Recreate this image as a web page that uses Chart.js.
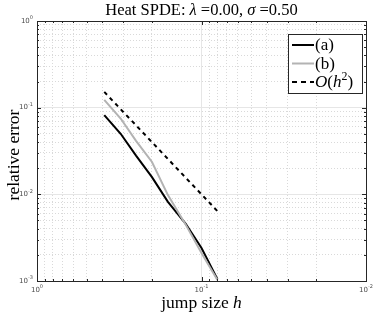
<!DOCTYPE html>
<html>
<head>
<meta charset="utf-8">
<script src="https://cdn.jsdelivr.net/npm/chart.js@4/dist/chart.umd.min.js"></script>
<style>
  html, body { margin: 0; padding: 0; background: #fff; }
  #wrap { width: 374px; height: 315px; }
</style>
</head>
<body>
<div id="wrap"><canvas id="errChart" width="374" height="315"></canvas></div>
<script>
// jump sizes h and relative errors
const hValues = [0.39, 0.31, 0.25, 0.2, 0.16, 0.125, 0.1, 0.08];
const errA = [0.082, 0.050, 0.028, 0.0158, 0.0082, 0.0046, 0.0024, 0.00105];
const errB = [0.123, 0.075, 0.0414, 0.0236, 0.0098, 0.0045, 0.0021, 0.00103];
const errRef = [0.152, 0.096, 0.0625, 0.04, 0.0256, 0.0156, 0.01, 0.0064];
const seriesLabels = ['(a)', '(b)', 'O(h^2)'];
const xDecades = [0, -1, -2];
const yDecades = [0, -1, -2, -3];

const SERIF = '"Liberation Serif", "DejaVu Serif", serif';

function logTicks(lo, hi) {
  const out = [];
  for (let e = lo; e < hi; e++) {
    for (let m = 1; m < 10; m++) out.push(+(m * Math.pow(10, e)).toPrecision(6));
  }
  out.push(Math.pow(10, hi));
  return out;
}
function isMajor(v) {
  const l = Math.log10(v);
  return Math.abs(l - Math.round(l)) < 1e-6;
}
const toPts = ys => hValues.map((h, i) => ({x: h, y: ys[i]}));

// draw "10^e" tick label
function drawPow(ctx, e, x, y, align) {
  ctx.save();
  ctx.fillStyle = '#4d4d4d';
  ctx.textBaseline = 'middle';
  ctx.textAlign = 'left';
  ctx.font = '7px "DejaVu Sans", sans-serif';
  const bw = ctx.measureText('10').width;
  ctx.font = '5px "DejaVu Sans", sans-serif';
  const ew = ctx.measureText(String(e)).width;
  const x0 = align === 'right' ? x - bw - ew : x - (bw + ew) / 2;
  ctx.font = '7px "DejaVu Sans", sans-serif';
  ctx.fillText('10', x0, y);
  ctx.font = '5px "DejaVu Sans", sans-serif';
  ctx.fillText(String(e), x0 + bw, y - 3);
  ctx.restore();
}

// draw runs of text with mixed italic
function drawRuns(ctx, runs, x, y, size, align) {
  ctx.save();
  ctx.textBaseline = 'alphabetic';
  ctx.textAlign = 'left';
  let w = 0;
  runs.forEach(r => {
    ctx.font = (r.it ? 'italic ' : '') + (r.sup ? size * 0.7 : size) + 'px ' + SERIF;
    r.w = ctx.measureText(r.t).width;
    w += r.w;
  });
  let cx = align === 'center' ? x - w / 2 : x;
  runs.forEach(r => {
    ctx.font = (r.it ? 'italic ' : '') + (r.sup ? size * 0.7 : size) + 'px ' + SERIF;
    ctx.fillText(r.t, cx, r.sup ? y - size * 0.4 : y);
    cx += r.w;
  });
  ctx.restore();
}

const decor = {
  id: 'decor',
  afterDraw(chart) {
    const ctx = chart.ctx, ca = chart.chartArea;
    const xs = chart.scales.x, ys = chart.scales.y;
    ctx.save();
    ctx.strokeStyle = '#262626';
    ctx.lineWidth = 1;
    // tick marks inside the box
    ctx.beginPath();
    xs.ticks.forEach(t => {
      const px = Math.round(xs.getPixelForValue(t.value)) + 0.5;
      const len = isMajor(t.value) ? 4 : 2;
      ctx.moveTo(px, ca.bottom); ctx.lineTo(px, ca.bottom - len);
      ctx.moveTo(px, ca.top); ctx.lineTo(px, ca.top + len);
    });
    ys.ticks.forEach(t => {
      const py = Math.round(ys.getPixelForValue(t.value)) + 0.5;
      const len = isMajor(t.value) ? 4 : 2;
      ctx.moveTo(ca.left, py); ctx.lineTo(ca.left + len, py);
      ctx.moveTo(ca.right, py); ctx.lineTo(ca.right - len, py);
    });
    ctx.stroke();
    ctx.strokeRect(Math.round(ca.left) + 0.5, Math.round(ca.top) + 0.5,
      Math.round(ca.right - ca.left), Math.round(ca.bottom - ca.top));
    ctx.restore();

    xDecades.forEach(e => drawPow(ctx, e, xs.getPixelForValue(Math.pow(10, e)), ca.bottom + 9, 'center'));
    yDecades.forEach(e => drawPow(ctx, e, ca.left - 4, ys.getPixelForValue(Math.pow(10, e)), 'right'));

    // title and axis titles
    ctx.fillStyle = '#000';
    const cx = (ca.left + ca.right) / 2;
    drawRuns(ctx, [{t: 'Heat SPDE: '}, {t: 'λ', it: true}, {t: ' =0.00, '}, {t: 'σ', it: true}, {t: ' =0.50'}], cx, 15, 16.5, 'center');
    drawRuns(ctx, [{t: 'jump size '}, {t: 'h', it: true}], cx, 308, 17.5, 'center');
    ctx.save();
    ctx.translate(19, (ca.top + ca.bottom) / 2 + 4);
    ctx.rotate(-Math.PI / 2);
    drawRuns(ctx, [{t: 'relative error'}], 0, 0, 17.5, 'center');
    ctx.restore();

    // legend box
    const lx = 288, ly = 34, lw = 74, lh = 59;
    ctx.save();
    ctx.fillStyle = '#fff';
    ctx.fillRect(lx, ly, lw, lh);
    ctx.strokeStyle = '#262626';
    ctx.lineWidth = 1;
    ctx.strokeRect(lx + 0.5, ly + 0.5, lw, lh);
    chart.data.datasets.forEach((ds, i) => {
      const ry = ly + 11 + i * 18.5;
      ctx.save();
      ctx.strokeStyle = ds.borderColor;
      ctx.lineWidth = ds.borderWidth;
      ctx.setLineDash(ds.borderDash ? [5, 4] : []);
      ctx.beginPath();
      ctx.moveTo(lx + 4, ry); ctx.lineTo(lx + 26, ry);
      ctx.stroke();
      ctx.restore();
      ctx.fillStyle = '#000';
      if (ds.label === 'O(h^2)') {
        drawRuns(ctx, [{t: 'O', it: true}, {t: '('}, {t: 'h', it: true}, {t: '2', sup: true}, {t: ')'}], lx + 27, ry + 5, 17, 'left');
      } else {
        drawRuns(ctx, [{t: ds.label}], lx + 27, ry + 5, 17, 'left');
      }
    });
    ctx.restore();
  }
};

new Chart(document.getElementById('errChart'), {
  type: 'line',
  data: {
    datasets: [
      { label: seriesLabels[0], data: toPts(errA), borderColor: '#000000', borderWidth: 2, pointRadius: 0, order: 3 },
      { label: seriesLabels[1], data: toPts(errB), borderColor: '#b3b3b3', borderWidth: 2, pointRadius: 0, order: 2 },
      { label: seriesLabels[2], data: toPts(errRef), borderColor: '#000000', borderWidth: 2, borderDash: [4, 4], pointRadius: 0, order: 1 }
    ]
  },
  options: {
    responsive: false,
    animation: false,
    layout: { padding: { left: 37, right: 8, top: 21, bottom: 34 } },
    plugins: { legend: { display: false }, title: { display: false }, tooltip: { enabled: false } },
    scales: {
      x: {
        type: 'logarithmic', reverse: true, min: 0.01, max: 1,
        afterBuildTicks: s => { s.ticks = logTicks(-2, 0).map(v => ({value: v})); },
        afterFit: s => { s.height = 0; },
        ticks: { display: false, autoSkip: false },
        grid: { drawTicks: false, color: c => (c.tick && isMajor(c.tick.value)) ? '#e6e6e6' : '#d9d9d9' },
        border: { display: false, dash: c => (c.tick && isMajor(c.tick.value)) ? [] : [1, 2] }
      },
      y: {
        type: 'logarithmic', min: 0.001, max: 1,
        afterBuildTicks: s => { s.ticks = logTicks(-3, 0).map(v => ({value: v})); },
        afterFit: s => { s.width = 0; },
        ticks: { display: false, autoSkip: false },
        grid: { drawTicks: false, color: c => (c.tick && isMajor(c.tick.value)) ? '#e6e6e6' : '#d9d9d9' },
        border: { display: false, dash: c => (c.tick && isMajor(c.tick.value)) ? [] : [1, 2] }
      }
    }
  },
  plugins: [decor]
});
</script>
</body>
</html>
